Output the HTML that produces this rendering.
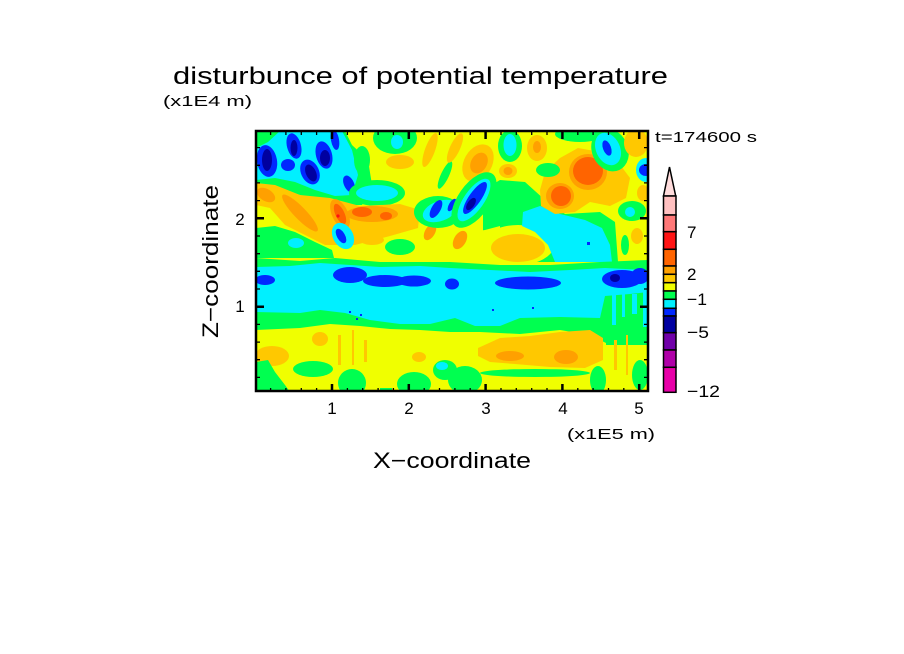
<!DOCTYPE html>
<html><head><meta charset="utf-8"><style>
html,body{margin:0;padding:0;background:#fff;}
svg{display:block;}
text{font-family:"Liberation Sans",sans-serif;fill:#000;}
</style></head><body>
<svg width="904" height="654" viewBox="0 0 904 654" xmlns="http://www.w3.org/2000/svg">
<defs><clipPath id="c"><rect x="256" y="131" width="392" height="261"/></clipPath></defs>
<rect width="904" height="654" fill="#fff"/>
<g clip-path="url(#c)">
<rect x="256" y="131" width="392" height="261" fill="#f0ff00"/>
<!-- upper left -->
<path fill="#00ff50" d="M256,131 L345,131 L352,145 L368,160 L372,185 L362,205 L330,205 L300,195 L275,188 L256,190 Z"/>
<path fill="#00f0ff" d="M256,148 L268,142 L280,131 L342,131 L352,150 L358,175 L352,195 L335,196 L315,190 L295,182 L275,178 L256,180 Z"/>
<g fill="#0028ff">
<ellipse cx="267" cy="161" rx="10" ry="16" transform="rotate(-10 267 161)"/>
<ellipse cx="294" cy="146" rx="7" ry="13" transform="rotate(-15 294 146)"/>
<ellipse cx="288" cy="165" rx="7" ry="6"/>
<ellipse cx="310" cy="172" rx="9" ry="13" transform="rotate(-25 310 172)"/>
<ellipse cx="324" cy="155" rx="8" ry="14" transform="rotate(-15 324 155)"/>
<ellipse cx="335" cy="140" rx="4" ry="10" transform="rotate(-10 335 140)"/>
<ellipse cx="349" cy="184" rx="5" ry="9" transform="rotate(-25 349 184)"/>
</g>
<g fill="#0000a0">
<ellipse cx="267" cy="160" rx="5" ry="11"/>
<ellipse cx="294" cy="148" rx="3.5" ry="8"/>
<ellipse cx="311" cy="173" rx="5" ry="9" transform="rotate(-25 311 173)"/>
<ellipse cx="325" cy="158" rx="5" ry="8"/>
</g>
<ellipse cx="395" cy="138" rx="22" ry="16" fill="#00ff50"/>
<ellipse cx="397" cy="142" rx="6" ry="7" fill="#00f0ff"/>
<ellipse cx="400" cy="162" rx="14" ry="7" fill="#ffc800"/>
<ellipse cx="362" cy="160" rx="8" ry="14" fill="#00ff50"/>
<ellipse cx="377" cy="193" rx="28" ry="13" fill="#00ff50"/>
<ellipse cx="377" cy="193" rx="21" ry="8" fill="#00f0ff"/>
<!-- upper-left gold/orange -->
<path fill="#ffc800" d="M256,183 L275,185 L300,195 L330,198 L360,206 L400,204 L420,210 L418,228 L390,236 L355,245 L325,245 L305,235 L285,225 L270,208 L256,205 Z"/>
<ellipse cx="300" cy="213" rx="25" ry="6" transform="rotate(46 300 213)" fill="#ffa000"/>
<ellipse cx="266" cy="195" rx="10" ry="6" transform="rotate(30 266 195)" fill="#ffa000"/>
<ellipse cx="340" cy="214" rx="8" ry="16" transform="rotate(-25 340 214)" fill="#ffa000"/>
<ellipse cx="340" cy="214" rx="4.5" ry="11" transform="rotate(-25 340 214)" fill="#ff6400"/>
<circle cx="338" cy="216" r="1.6" fill="#ff1010"/>
<ellipse cx="372" cy="214" rx="26" ry="8" fill="#ffa000"/>
<ellipse cx="362" cy="212" rx="10" ry="5" fill="#ff6400"/>
<ellipse cx="386" cy="216" rx="6" ry="4" fill="#ff6400"/>
<ellipse cx="343" cy="236" rx="10" ry="14" transform="rotate(-30 343 236)" fill="#00f0ff"/>
<ellipse cx="341" cy="236" rx="4" ry="8" transform="rotate(-30 341 236)" fill="#0028ff"/>
<path fill="#00ff50" d="M256,228 L275,226 L295,232 L315,242 L332,250 L334,258 L256,258 Z"/>
<ellipse cx="296" cy="243" rx="8" ry="5" fill="#00f0ff"/>
<ellipse cx="400" cy="247" rx="15" ry="8" fill="#00ff50"/>
<ellipse cx="372" cy="240" rx="12" ry="5" fill="#ffc800"/>
<ellipse cx="430" cy="232" rx="5" ry="9" transform="rotate(30 430 232)" fill="#ffa000"/>
<!-- upper middle streaks -->
<ellipse cx="430" cy="150" rx="5" ry="18" transform="rotate(20 430 150)" fill="#ffc800"/>
<ellipse cx="445" cy="175" rx="4" ry="15" transform="rotate(25 445 175)" fill="#00ff50"/>
<ellipse cx="455" cy="148" rx="5" ry="16" transform="rotate(25 455 148)" fill="#ffc800"/>
<ellipse cx="478" cy="163" rx="14" ry="20" transform="rotate(30 478 163)" fill="#ffc800"/>
<ellipse cx="479" cy="163" rx="8" ry="11" transform="rotate(30 479 163)" fill="#ffa000"/>
<ellipse cx="438" cy="212" rx="24" ry="16" fill="#00ff50"/>
<ellipse cx="440" cy="211" rx="18" ry="10" transform="rotate(-20 440 211)" fill="#00f0ff"/>
<ellipse cx="436" cy="209" rx="4.5" ry="10" transform="rotate(30 436 209)" fill="#0028ff"/>
<ellipse cx="452" cy="205" rx="3" ry="7" transform="rotate(30 452 205)" fill="#0028ff"/>
<!-- right upper -->
<path fill="#00ff50" d="M483,190 L500,180 L525,182 L545,200 L565,214 L600,212 L615,222 L618,262 L483,262 Z"/>
<ellipse cx="474" cy="200" rx="16" ry="32" transform="rotate(35 474 200)" fill="#00ff50"/>
<ellipse cx="474" cy="200" rx="10" ry="25" transform="rotate(35 474 200)" fill="#00f0ff"/>
<ellipse cx="475" cy="198" rx="6" ry="19" transform="rotate(35 475 198)" fill="#0028ff"/>
<ellipse cx="471" cy="204" rx="3.5" ry="7" transform="rotate(35 471 204)" fill="#0000a0"/>
<path fill="#f0ff00" d="M450,228 L470,232 L485,230 L500,226 L500,262 L450,262 Z"/>
<ellipse cx="460" cy="240" rx="6" ry="10" transform="rotate(30 460 240)" fill="#ffa000"/>
<ellipse cx="518" cy="245" rx="36" ry="20" fill="#f0ff00"/>
<ellipse cx="518" cy="248" rx="27" ry="14" fill="#ffc800"/>
<path fill="#00f0ff" d="M523,212 L540,206 L560,214 L585,220 L602,228 L610,245 L612,262 L555,262 L548,245 L535,232 L522,226 Z"/>
<path fill="#ffc800" d="M540,190 L545,172 L560,158 L578,148 L600,152 L618,162 L630,178 L626,198 L610,206 L590,202 L575,212 L555,214 L541,206 Z"/>
<ellipse cx="588" cy="172" rx="19" ry="18" fill="#ffa000"/>
<ellipse cx="560" cy="196" rx="14" ry="13" fill="#ffa000"/>
<ellipse cx="588" cy="171" rx="15" ry="14" fill="#ff6400"/>
<ellipse cx="561" cy="196" rx="10" ry="10" fill="#ff6400"/>
<ellipse cx="548" cy="170" rx="12" ry="7" fill="#00ff50"/>
<ellipse cx="537" cy="148" rx="10" ry="13" fill="#ffc800"/>
<ellipse cx="537" cy="147" rx="4" ry="6" fill="#ffa000"/>
<ellipse cx="580" cy="134" rx="25" ry="8" fill="#00ff50"/>
<ellipse cx="510" cy="146" rx="12" ry="16" fill="#00ff50"/>
<ellipse cx="510" cy="145" rx="6.5" ry="11" fill="#00f0ff"/>
<ellipse cx="508" cy="171" rx="9" ry="7" fill="#ffc800"/>
<ellipse cx="508" cy="171" rx="4.5" ry="4" fill="#ffa000"/>
<ellipse cx="610" cy="150" rx="18" ry="22" transform="rotate(-25 610 150)" fill="#00ff50"/>
<ellipse cx="608" cy="149" rx="12" ry="17" transform="rotate(-25 608 149)" fill="#00f0ff"/>
<ellipse cx="607" cy="148" rx="4" ry="8" transform="rotate(-20 607 148)" fill="#0028ff"/>
<ellipse cx="636" cy="143" rx="12" ry="14" fill="#ffc800"/>
<ellipse cx="646" cy="170" rx="10" ry="12" fill="#00f0ff"/>
<ellipse cx="646" cy="170" rx="7" ry="6" fill="#0028ff"/>
<ellipse cx="632" cy="211" rx="14" ry="10" fill="#00ff50"/>
<ellipse cx="630" cy="212" rx="5" ry="5" fill="#00f0ff"/>
<ellipse cx="643" cy="193" rx="6" ry="8" fill="#ffc800"/>
<ellipse cx="637" cy="236" rx="6" ry="8" fill="#ffc800"/>
<ellipse cx="625" cy="245" rx="4" ry="10" fill="#00ff50"/>
<rect x="587" y="242" width="3" height="3" fill="#0028ff"/>
<!-- main band -->
<path fill="#00ff50" d="M256,258 L300,261 L335,258 L380,262 L420,262 L450,262 L500,265 L550,265 L600,262 L648,260 L648,345 L610,345 L590,335 L560,330 L520,334 L480,332 L450,332 L420,330 L390,329 L360,326 L330,324 L300,328 L256,330 Z"/>
<path fill="#00f0ff" d="M256,267 L290,266 L320,263 L350,265 L380,267 L420,266 L450,268 L490,270 L530,272 L570,270 L605,268 L648,270 L648,292 L630,294 L605,296 L600,318 L560,317 L520,318 L500,326 L475,326 L455,318 L430,324 L400,324 L370,320 L345,313 L320,310 L300,313 L256,312 Z"/>
<g fill="#00f0ff">
<rect x="612" y="295" width="4" height="30"/><rect x="622" y="292" width="3" height="25"/><rect x="632" y="294" width="5" height="20"/><rect x="643" y="292" width="5" height="35"/>
</g>
<g fill="#0028ff">
<ellipse cx="265" cy="280" rx="10" ry="5"/>
<ellipse cx="350" cy="275" rx="17" ry="8"/>
<ellipse cx="385" cy="281" rx="22" ry="6"/>
<ellipse cx="414" cy="281" rx="17" ry="5.5"/>
<ellipse cx="452" cy="284" rx="7" ry="5.5"/>
<ellipse cx="528" cy="283" rx="33" ry="6.5"/>
<ellipse cx="622" cy="279" rx="20" ry="9"/>
<ellipse cx="640" cy="276" rx="9" ry="8"/>
<rect x="349" y="311" width="2" height="2"/><rect x="360" y="314" width="2" height="2"/><rect x="356" y="318" width="2" height="2"/><rect x="492" y="309" width="2" height="2"/><rect x="532" y="307" width="2" height="2"/>
</g>
<ellipse cx="615" cy="278" rx="5" ry="4" fill="#0000a0"/>
<!-- lower region -->
<ellipse cx="272" cy="356" rx="17" ry="10" fill="#ffc800"/>
<ellipse cx="320" cy="339" rx="8" ry="7" fill="#ffc800"/>
<ellipse cx="419" cy="357" rx="7" ry="5" fill="#ffc800"/>
<path fill="#ffc800" d="M478,348 L500,338 L530,336 L560,332 L590,330 L603,338 L603,360 L585,368 L550,367 L515,364 L490,362 L478,356 Z"/>
<ellipse cx="510" cy="356" rx="14" ry="5" fill="#ffa000"/>
<ellipse cx="566" cy="357" rx="12" ry="7" fill="#ffa000"/>
<g fill="#ffc800">
<rect x="338" y="335" width="3" height="30"/><rect x="352" y="330" width="2" height="35"/><rect x="364" y="340" width="3" height="22"/><rect x="614" y="340" width="3" height="30"/><rect x="626" y="335" width="2" height="40"/>
</g>
<g fill="#00ff50">
<path d="M256,362 L268,360 L275,372 L285,385 L290,392 L256,392 Z"/>
<ellipse cx="313" cy="369" rx="20" ry="8"/>
<ellipse cx="352" cy="383" rx="14" ry="14"/>
<ellipse cx="414" cy="384" rx="17" ry="12"/>
<ellipse cx="445" cy="370" rx="12" ry="10"/>
<ellipse cx="465" cy="380" rx="17" ry="14"/>
<ellipse cx="535" cy="373" rx="55" ry="4"/>
<ellipse cx="598" cy="380" rx="8" ry="14"/>
<ellipse cx="640" cy="375" rx="8" ry="15"/>
<rect x="606" y="300" width="5" height="45"/>
<rect x="380" y="388" width="12" height="4"/>
</g>
<ellipse cx="442" cy="366" rx="6" ry="4" fill="#00f0ff"/>
</g>
<!-- frame -->
<rect x="256" y="131" width="392" height="260" fill="none" stroke="#000" stroke-width="2.5"/>
<!-- ticks -->
<path stroke="#000" stroke-width="1.3" fill="none" d="M270.6,392v-4M285.9,392v-4M301.3,392v-4M316.6,392v-4M347.4,392v-4M362.7,392v-4M378.1,392v-4M393.4,392v-4M424.2,392v-4M439.5,392v-4M454.9,392v-4M470.2,392v-4M501,392v-4M516.3,392v-4M531.7,392v-4M547,392v-4M577.8,392v-4M593.1,392v-4M608.5,392v-4M623.8,392v-4
M270.6,131v4M285.9,131v4M301.3,131v4M316.6,131v4M347.4,131v4M362.7,131v4M378.1,131v4M393.4,131v4M424.2,131v4M439.5,131v4M454.9,131v4M470.2,131v4M501,131v4M516.3,131v4M531.7,131v4M547,131v4M577.8,131v4M593.1,131v4M608.5,131v4M623.8,131v4
M256,377.4h4M256,359.7h4M256,342.1h4M256,324.4h4M256,289h4M256,271.3h4M256,253.7h4M256,236h4M256,200.6h4M256,182.9h4M256,165.3h4M256,147.6h4
M648,377.4h-4M648,359.7h-4M648,342.1h-4M648,324.4h-4M648,289h-4M648,271.3h-4M648,253.7h-4M648,236h-4M648,200.6h-4M648,182.9h-4M648,165.3h-4M648,147.6h-4"/>
<path stroke="#000" stroke-width="2.5" fill="none" d="M332,392v-8M408.8,392v-8M485.6,392v-8M562.4,392v-8M639.2,392v-8
M332,131v8M408.8,131v8M485.6,131v8M562.4,131v8M639.2,131v8
M256,306.7h8M256,218.3h8M648,306.7h-8M648,218.3h-8"/>
<!-- colorbar -->
<polygon points="663.5,196 669.5,167 675.7,196" fill="#ffdcdc" stroke="#000" stroke-width="1.5"/>
<g stroke="#000" stroke-width="1.5">
<rect x="663.5" y="196" width="12.5" height="19" fill="#ffc0c0"/>
<rect x="663.5" y="215" width="12.5" height="16.7" fill="#ff7878"/>
<rect x="663.5" y="231.7" width="12.5" height="17.6" fill="#ff1414"/>
<rect x="663.5" y="249.3" width="12.5" height="16.7" fill="#ff6400"/>
<rect x="663.5" y="266" width="12.5" height="8.3" fill="#ffa000"/>
<rect x="663.5" y="274.3" width="12.5" height="8.4" fill="#ffc800"/>
<rect x="663.5" y="282.7" width="12.5" height="8.3" fill="#f0ff00"/>
<rect x="663.5" y="291" width="12.5" height="8.3" fill="#00ff50"/>
<rect x="663.5" y="299.3" width="12.5" height="9" fill="#00f0ff"/>
<rect x="663.5" y="308.3" width="12.5" height="7.7" fill="#0028ff"/>
<rect x="663.5" y="316" width="12.5" height="16.7" fill="#0000a0"/>
<rect x="663.5" y="332.7" width="12.5" height="17.3" fill="#7000a8"/>
<rect x="663.5" y="350" width="12.5" height="17.3" fill="#b000a8"/>
<rect x="663.5" y="367.3" width="12.5" height="25" fill="#e800a8"/>
</g>
<g font-size="17">
<text x="687" y="238">7</text>
<text x="687" y="280">2</text>
<text x="687" y="305" textLength="20" lengthAdjust="spacingAndGlyphs">−1</text>
<text x="687" y="338" textLength="22" lengthAdjust="spacingAndGlyphs">−5</text>
<text x="687" y="397" textLength="33" lengthAdjust="spacingAndGlyphs">−12</text>
</g>
<!-- texts -->
<text x="173" y="84" font-size="24" textLength="495" lengthAdjust="spacingAndGlyphs">disturbunce of potential temperature</text>
<text x="163" y="106" font-size="15" textLength="89" lengthAdjust="spacingAndGlyphs">(x1E4 m)</text>
<text x="655" y="142" font-size="15" textLength="102" lengthAdjust="spacingAndGlyphs">t=174600 s</text>
<g font-size="17" text-anchor="middle">
<text x="332" y="414">1</text>
<text x="409" y="414">2</text>
<text x="486" y="414">3</text>
<text x="563" y="414">4</text>
<text x="639" y="414">5</text>
<text x="240" y="225">2</text>
<text x="240" y="312">1</text>
</g>
<text x="567" y="439" font-size="15" textLength="88" lengthAdjust="spacingAndGlyphs">(x1E5 m)</text>
<text x="373" y="468" font-size="22" textLength="158" lengthAdjust="spacingAndGlyphs">X−coordinate</text>
<text transform="translate(218 261.5) rotate(-90)" x="0" y="0" font-size="22" text-anchor="middle" textLength="153" lengthAdjust="spacingAndGlyphs">Z−coordinate</text>
</svg>
</body></html>
